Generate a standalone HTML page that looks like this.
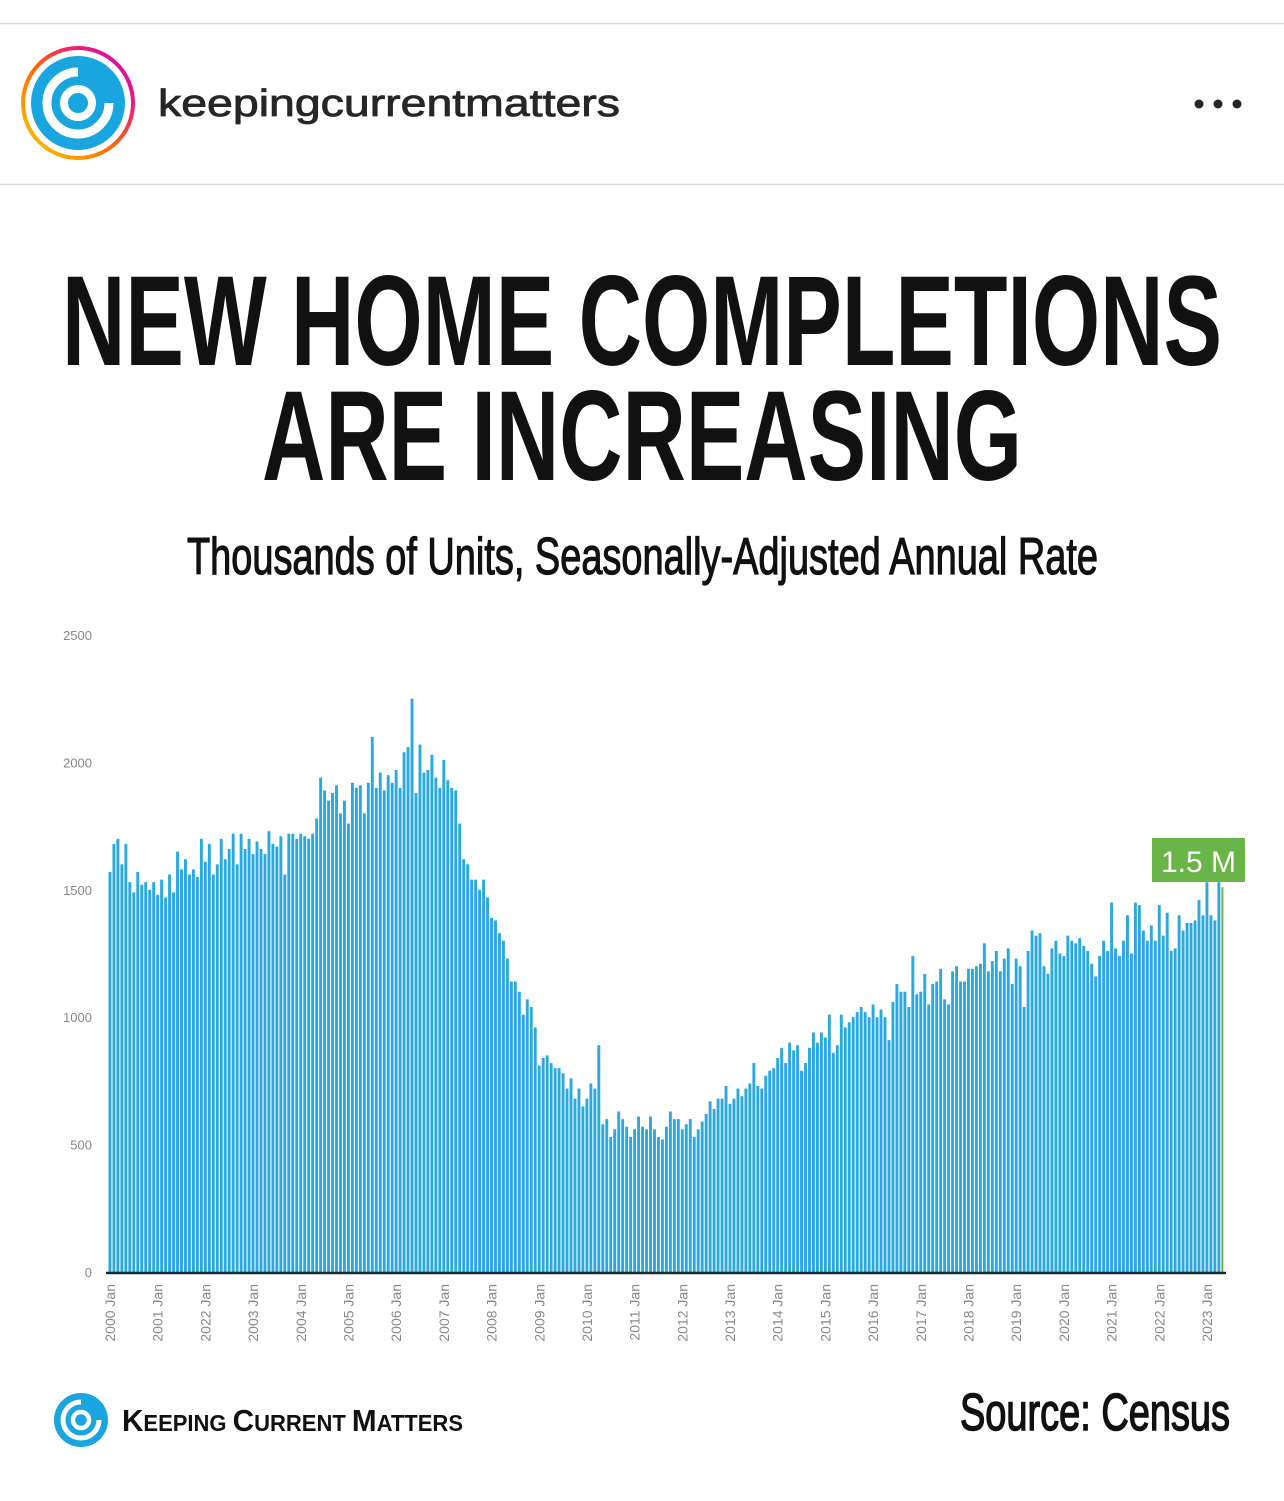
<!DOCTYPE html>
<html><head><meta charset="utf-8">
<style>
html,body{margin:0;padding:0;background:#fff;}
body{width:1284px;height:1496px;position:relative;overflow:hidden;font-family:"Liberation Sans",sans-serif;}
</style></head>
<body>
<svg width="1284" height="1496" viewBox="0 0 1284 1496" xmlns="http://www.w3.org/2000/svg">
  <defs>
    <linearGradient id="ring" x1="0" y1="1" x2="1" y2="0">
      <stop offset="0" stop-color="#ffd000"/>
      <stop offset="0.45" stop-color="#ff6a00"/>
      <stop offset="0.75" stop-color="#ee1a7a"/>
      <stop offset="1" stop-color="#c800c8"/>
    </linearGradient>
  </defs>
  <line x1="0" y1="23.5" x2="1284" y2="23.5" stroke="#dcdcdc" stroke-width="1.5"/>
  <line x1="0" y1="184.5" x2="1284" y2="184.5" stroke="#dcdcdc" stroke-width="1.5"/>
  <g>
    <circle cx="78" cy="103" r="55" fill="none" stroke="url(#ring)" stroke-width="4"/>
    <circle cx="78" cy="103" r="47" fill="#18a5e0"/>
    <path d="M78 72 a31 31 0 1 0 31 31" fill="none" stroke="#fff" stroke-width="9"/>
    <circle cx="78" cy="103" r="14" fill="none" stroke="#fff" stroke-width="8"/>
  </g>
  <text x="158" y="116" font-family="Liberation Sans" font-size="38" fill="#262626" stroke="#262626" stroke-width="0.8" textLength="462" lengthAdjust="spacingAndGlyphs">keepingcurrentmatters</text>
  <g fill="#262626">
    <circle cx="1199" cy="104" r="4.5"/><circle cx="1218" cy="104" r="4.5"/><circle cx="1237" cy="104" r="4.5"/>
  </g>

  <text x="62" y="365" font-family="'Liberation Sans Narrow','Liberation Sans',sans-serif" font-weight="bold" font-size="128" textLength="1160" lengthAdjust="spacingAndGlyphs" fill="#111">NEW HOME COMPLETIONS</text>
  <text x="262" y="480" font-family="'Liberation Sans Narrow','Liberation Sans',sans-serif" font-weight="bold" font-size="128" textLength="760" lengthAdjust="spacingAndGlyphs" fill="#111">ARE INCREASING</text>
  <text x="187" y="574" font-family="'Liberation Sans Narrow','Liberation Sans',sans-serif" font-size="52" textLength="911" lengthAdjust="spacingAndGlyphs" fill="#111" stroke="#111" stroke-width="1.2">Thousands of Units, Seasonally-Adjusted Annual Rate</text>

  <g id="yaxis"></g>
  <g id="bars"></g>
  <line x1="106" y1="1273" x2="1226" y2="1273" stroke="#1d2a30" stroke-width="2.5"/>
  <g id="xaxis"></g>
  <g id="callout"></g>

  <g>
    <circle cx="81" cy="1420" r="27" fill="#18a5e0"/>
    <path d="M81 1402 a18 18 0 1 0 18 18" fill="none" stroke="#fff" stroke-width="5"/>
    <circle cx="81" cy="1420" r="8" fill="none" stroke="#fff" stroke-width="4.5"/>
    <text x="122" y="1431" font-family="Liberation Sans" font-weight="bold" fill="#111" textLength="341" lengthAdjust="spacingAndGlyphs"><tspan font-size="31">K</tspan><tspan font-size="23">EEPING </tspan><tspan font-size="31">C</tspan><tspan font-size="23">URRENT </tspan><tspan font-size="31">M</tspan><tspan font-size="23">ATTERS</tspan></text>
  </g>
  <text x="960" y="1430" font-family="'Liberation Sans Narrow','Liberation Sans',sans-serif" font-size="52" textLength="270" lengthAdjust="spacingAndGlyphs" fill="#111" stroke="#111" stroke-width="1.5">Source: Census</text>
</svg>
<script>
const values = [
1570,1680,1700,1600,1680,1530,1490,1570,1520,1530,1500,1530,
1480,1540,1470,1560,1490,1650,1580,1620,1560,1580,1550,1700,
1610,1680,1560,1600,1700,1620,1660,1720,1600,1720,1660,1700,
1640,1690,1660,1640,1730,1680,1670,1710,1560,1720,1720,1700,
1720,1710,1700,1720,1780,1940,1890,1850,1880,1910,1800,1850,
1760,1920,1900,1910,1800,1920,2100,1900,1960,1890,1950,1920,
1970,1900,2040,2060,2250,1880,2070,1960,1970,2030,1940,1900,
2010,1930,1900,1890,1760,1620,1600,1540,1540,1500,1540,1470,
1390,1380,1330,1300,1230,1140,1140,1100,1010,1070,1040,960,
810,840,850,820,800,800,780,720,760,680,720,650,
680,740,720,890,580,600,530,560,630,600,570,530,
560,610,570,560,610,560,530,520,570,630,600,600,
560,580,600,530,560,590,620,670,640,680,680,730,
660,680,720,690,720,740,820,730,720,770,790,800,
840,880,820,900,870,890,790,820,880,940,900,940,
920,1010,860,890,1010,960,980,1000,1020,1040,1020,1000,
1050,1000,1030,1000,910,1060,1130,1100,1100,1040,1240,1090,
1100,1170,1050,1130,1140,1190,1070,1050,1180,1200,1140,1140,
1190,1190,1200,1210,1290,1180,1220,1260,1180,1230,1270,1130,
1230,1200,1040,1260,1340,1320,1330,1200,1170,1270,1300,1250,
1240,1320,1300,1290,1310,1280,1260,1210,1160,1240,1300,1260,
1450,1270,1240,1300,1400,1250,1450,1440,1340,1300,1360,1300,
1440,1320,1410,1260,1270,1400,1340,1370,1370,1380,1460,1400,
1530,1400,1380,1530,1510
];
const yTicks = [0,500,1000,1500,2000,2500];
const xLabels = ["2000 Jan","2001 Jan","2022 Jan","2003 Jan","2004 Jan","2005 Jan","2006 Jan","2007 Jan","2008 Jan","2009 Jan","2010 Jan","2011 Jan","2012 Jan","2013 Jan","2014 Jan","2015 Jan","2016 Jan","2017 Jan","2018 Jan","2019 Jan","2020 Jan","2021 Jan","2022 Jan","2023 Jan"];
const calloutText = ["1.5 M"];

const NS="http://www.w3.org/2000/svg";
const x0=108.5, pitch=(1207-110)/276;
const yZero=1272, yTop=635, yMax=2500;
function yScale(v){return yZero-(v/yMax)*(yZero-yTop);}
function xScale(i){return x0+i*pitch;}
function mk(tag,attrs){const e=document.createElementNS(NS,tag);for(const k in attrs)e.setAttribute(k,attrs[k]);return e;}

const yg=document.getElementById('yaxis');
yTicks.forEach(t=>{
  const tx=mk('text',{x:92,y:yScale(t)+5,'text-anchor':'end','font-size':13,fill:'#888','font-family':'Liberation Sans'});
  
  
  tx.textContent=t;yg.appendChild(tx);
});

const bg=document.getElementById('bars');
values.forEach((v,i)=>{
  const last=i===values.length-1;
  const r=mk('rect',{x:xScale(i),y:yScale(v),width:last?2:2.9,height:yZero-yScale(v),fill:last?'#6ab547':'#2aa8df'});
  
  
  bg.appendChild(r);
});

const xg=document.getElementById('xaxis');
xLabels.forEach((l,k)=>{
  const cx=xScale(k*12)+1.5;
  const tx=mk('text',{x:0,y:0,'text-anchor':'end','font-size':14,fill:'#888','font-family':'Liberation Sans',transform:`translate(${cx+5},1284) rotate(-90)`});
  
  
  tx.textContent=l;xg.appendChild(tx);
});

const cg=document.getElementById('callout');
const box=mk('rect',{x:1152,y:838,width:93,height:44,fill:'#6ab547'});


cg.appendChild(box);
const ct=mk('text',{x:1198.5,y:872,'text-anchor':'middle','font-size':30,fill:'#fff','font-family':'Liberation Sans'});


ct.textContent=calloutText[0];cg.appendChild(ct);
</script>
</body></html>
